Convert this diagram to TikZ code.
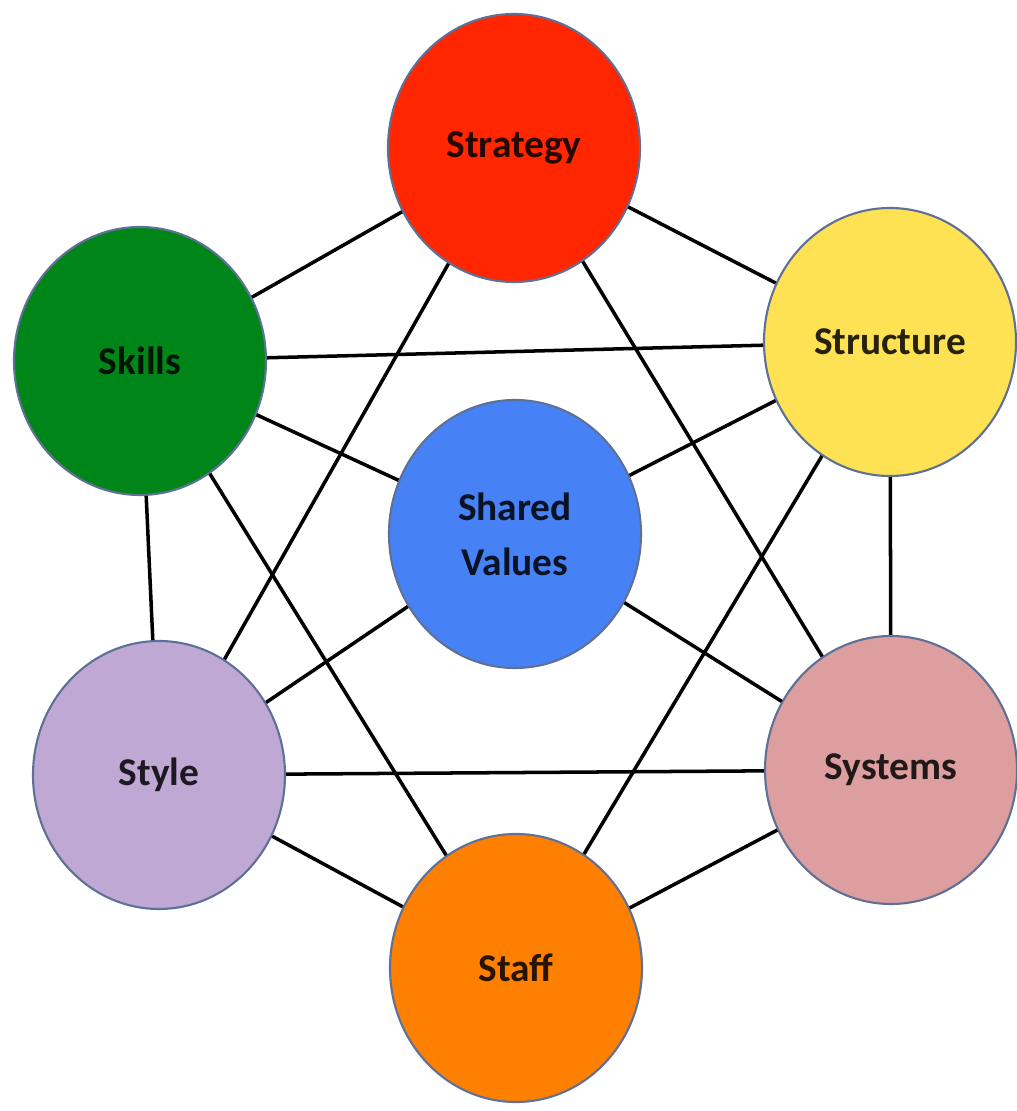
\documentclass[tikz,border=0pt]{standalone}
\usepackage{fontspec}
\setmainfont{Carlito}
\definecolor{factorred}{RGB}{255,38,0}
\definecolor{factoryellow}{RGB}{254,226,84}
\definecolor{factorgreen}{RGB}{0,134,24}
\definecolor{factorblue}{RGB}{70,130,245}
\definecolor{factorlilac}{RGB}{191,168,212}
\definecolor{factorrose}{RGB}{220,158,158}
\definecolor{factororange}{RGB}{255,128,0}
\definecolor{rimgray}{RGB}{95,112,150}
\usetikzlibrary{shapes,positioning}

\begin{document}
\begin{tikzpicture}[
    factor/.style={ellipse, minimum width=2.52cm, minimum height=2.68cm, inner sep=0pt,
        fill=#1, draw=rimgray, line width=0.6pt, text=#1!15!black, align=center,
        font=\fontsize{11.2}{15.6}\selectfont\bfseries},
    link/.style={line width=1pt, black}
]
    \useasboundingbox (0,0) rectangle (10.17,11.11);

    % the seven factors
    \node[factor=factorred] (strategy) at (5.14,9.63) {Strategy};
    \node[factor=factoryellow] (structure) at (8.90,7.69) {Structure};
    \node[factor=factorgreen] (skills) at (1.40,7.50) {Skills};
    \node[factor=factorblue] (shared) at (5.15,5.77) {Shared\\Values};
    \node[factor=factorlilac] (style) at (1.59,3.36) {Style};
    \node[factor=factorrose] (systems) at (8.91,3.41) {Systems};
    \node[factor=factororange] (staff) at (5.16,1.43) {Staff};

    % links between the factors
    \foreach \a/\b in {strategy/structure, structure/systems, systems/staff,
                       staff/style, style/skills, skills/strategy,
                       strategy/style, strategy/systems, skills/structure,
                       skills/staff, structure/staff, style/systems,
                       shared/skills, shared/structure, shared/style, shared/systems}
        \draw[link] (\a) -- (\b);
\end{tikzpicture}
\end{document}
